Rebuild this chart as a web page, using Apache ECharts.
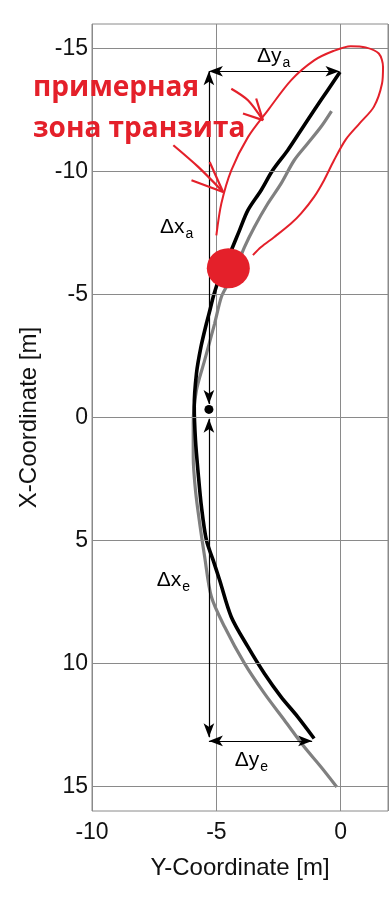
<!DOCTYPE html>
<html><head><meta charset="utf-8">
<script src="https://cdn.jsdelivr.net/npm/echarts@6/dist/echarts.min.js"></script>
<style>html,body{margin:0;padding:0;background:#fff}#c{width:391px;height:903px}</style>
</head><body><div id="c"></div>
<script>
// ---- data: [Y-Coordinate, X-Coordinate] ----
const blackPath = [[-0.03,-14.05],[-0.53,-13.3],[-1.07,-12.49],[-1.6,-11.68],[-2.13,-10.87],[-2.73,-10.06],[-3.2,-9.24],[-3.73,-8.43],[-4.07,-7.61],[-4.4,-6.8],[-4.8,-5.9],[-5.1,-5.0],[-5.25,-4.4],[-5.4,-3.82],[-5.62,-2.87],[-5.8,-1.79],[-5.89,-0.43],[-5.84,0.92],[-5.73,2.28],[-5.6,3.63],[-5.4,4.99],[-5.13,5.8],[-4.87,6.61],[-4.4,8.11],[-3.73,9.33],[-3.07,10.41],[-2.4,11.36],[-1.73,12.17],[-1.07,13.05]];
const grayPath = [[-0.37,-12.46],[-0.8,-11.81],[-1.33,-11.14],[-1.87,-10.46],[-2.4,-9.51],[-2.93,-8.7],[-3.47,-7.75],[-3.87,-6.93],[-4.2,-6.1],[-4.55,-5.4],[-4.8,-4.9],[-5.07,-3.82],[-5.47,-2.33],[-5.8,-1.11],[-5.93,0.24],[-5.93,1.6],[-5.84,2.96],[-5.67,4.31],[-5.47,5.67],[-5.2,7.29],[-4.67,8.51],[-3.87,10.0],[-3.07,11.22],[-2.27,12.3],[-1.47,13.39],[-0.8,14.2],[-0.16,15.02]];
const transitLoop = [[-5.0,-7.41],[-4.8,-8.7],[-4.4,-10.05],[-3.73,-11.4],[-2.93,-12.49],[-2.0,-13.71],[-1.07,-14.52],[-0.3,-14.9],[0.4,-15.1],[1.0,-15.05],[1.53,-14.8],[1.7,-14.25],[1.66,-13.58],[1.33,-12.63],[0.75,-11.95],[0.2,-11.3],[-0.27,-10.46],[-0.67,-9.65],[-1.07,-8.97],[-1.6,-8.29],[-2.0,-7.89],[-2.67,-7.34],[-3.2,-6.93],[-3.53,-6.6]];
const redArrow1 = [[-4.4,-13.37],[-3.73,-12.9],[-3.13,-12.09]];
const redArrow1Head = [[-3.93,-12.36],[-3.13,-12.09],[-3.4,-12.97]];
const redArrow2 = [[-6.73,-11.07],[-5.73,-10.19],[-4.73,-9.17]];
const redArrow2Head = [[-6.0,-9.65],[-4.73,-9.17],[-5.27,-10.39]];
const redSpot = [[-4.52,-6.07]];
const refDot = [[-5.3,-0.33]];
const dimArrows = [
  [[-5.3,-14.08],[-5.3,-0.55]],
  [[-5.3,0.05],[-5.3,13.0]],
  [[-5.3,-14.08],[-0.05,-14.08]],
  [[-5.3,13.15],[-1.15,13.15]]
];
const dimLabels = [
  {main:'Δy', sub:'a', at:[-3.37,-14.7]},
  {main:'Δx', sub:'a', at:[-7.27,-7.72]},
  {main:'Δx', sub:'e', at:[-7.4,6.6]},
  {main:'Δy', sub:'e', at:[-4.26,13.92]}
];
const xTicks = [-10,-5,0];
const yTicks = [-15,-10,-5,0,5,10,15];
const xTitle = 'Y-Coordinate [m]';
const yTitle = 'X-Coordinate [m]';
const zoneText = 'примерная\nзона транзита';

const RED = '#e4202a';
const FONT = 'Liberation Sans';
const chart = echarts.init(document.getElementById('c'));
const redLine = (data, w) => ({type:'line', data, symbol:'none', smooth:0.3, silent:true,
  lineStyle:{color:RED, width:w}, z:6});
chart.setOption({
  backgroundColor:'#fff',
  animation:false,
  grid:{left:92, right:3, top:24, bottom:92, show:true, borderColor:'#8a8a8a', borderWidth:1},
  xAxis:{type:'value', min:-10, max:1.9, interval:5,
    name:xTitle, nameLocation:'middle', nameGap:45,
    nameTextStyle:{fontSize:24, color:'#111', fontFamily:FONT},
    axisLine:{show:false}, axisTick:{show:false},
    axisLabel:{fontSize:23, color:'#111', fontFamily:FONT, margin:10, showMaxLabel:false,
      formatter:v=>xTicks.includes(v)?String(v):''},
    splitLine:{show:true, lineStyle:{color:'#8a8a8a', width:1}}},
  yAxis:{type:'value', inverse:true, min:-16, max:16, interval:1,
    name:yTitle, nameLocation:'middle', nameGap:51,
    nameTextStyle:{fontSize:24, color:'#111', fontFamily:FONT},
    axisLine:{show:false}, axisTick:{show:false},
    axisLabel:{fontSize:23, color:'#111', fontFamily:FONT, margin:4,
      formatter:v=>yTicks.includes(v)?String(v):''},
    splitLine:{show:false}},
  graphic:[{type:'text', left:33, top:68, z:20,
    style:{text:zoneText, fill:RED, fontSize:28, fontWeight:'bold', fontFamily:'Open Sans', lineHeight:41}}],
  series:[
    {type:'line', data:[], silent:true, markLine:{silent:true, symbol:'none', label:{show:false},
      lineStyle:{color:'#8a8a8a', width:1, type:'solid'},
      data:yTicks.map(v=>({yAxis:v}))}, z:1},
    {type:'line', data:grayPath, symbol:'none', smooth:0.3, lineStyle:{color:'#808080', width:3.2}, z:3},
    {type:'line', data:blackPath, symbol:'none', smooth:0.3, lineStyle:{color:'#000', width:3.6}, z:4},
    {type:'line', data:[], silent:true, z:5, markLine:{silent:true, symbol:['arrow','arrow'], symbolSize:[8,14],
      label:{show:false}, lineStyle:{color:'#000', width:1.2, type:'solid'},
      data:dimArrows.map(a=>[{coord:a[0]},{coord:a[1]}])}},
    {type:'scatter', data:refDot, symbol:'circle', symbolSize:9, itemStyle:{color:'#000', opacity:1}, z:5},
    redLine(transitLoop, 2),
    redLine(redArrow1, 2.2),
    {type:'line', data:redArrow1Head, symbol:'none', lineStyle:{color:RED, width:2.2}, z:6},
    redLine(redArrow2, 2.2),
    {type:'line', data:redArrow2Head, symbol:'none', lineStyle:{color:RED, width:2.2}, z:6},
    {type:'scatter', data:redSpot, symbol:'circle', symbolSize:[43,40], itemStyle:{color:RED, opacity:1}, z:7},
    {type:'scatter', symbolSize:0, z:8, silent:true, itemStyle:{opacity:1},
      data:dimLabels.map(d=>({value:d.at, main:d.main, sub:d.sub})),
      label:{show:true, position:'right', distance:0, opacity:1,
        formatter:p=>'{m|'+p.data.main+'}{s|'+p.data.sub+'}',
        rich:{m:{fontSize:21, color:'#000', fontFamily:FONT},
              s:{fontSize:14, color:'#000', fontFamily:FONT, padding:[14,0,0,1]}}}}
  ]
});
</script></body></html>
